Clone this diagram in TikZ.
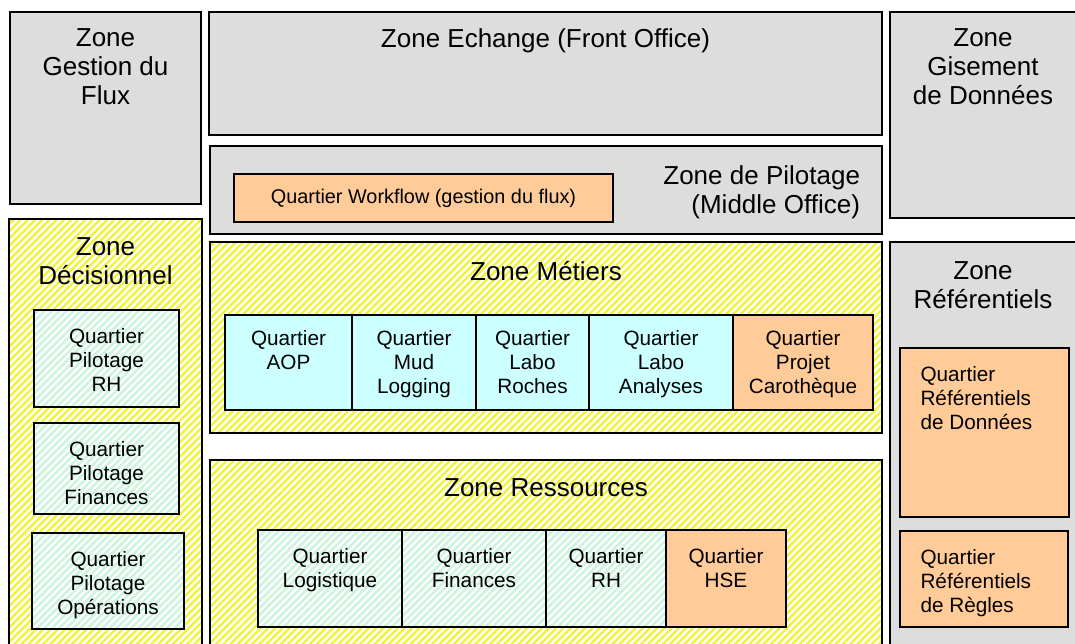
\documentclass[tikz,border=0pt]{standalone}
\usepackage{fontspec}
\setmainfont{Liberation Sans}
\usetikzlibrary{positioning,fit,patterns.meta}

\definecolor{zonegray}{HTML}{DDDDDD}
\definecolor{orangeq}{HTML}{FFCC99}
\definecolor{cyanq}{HTML}{CCFFFF}
\definecolor{yellowbg}{HTML}{FFFFCC}
\definecolor{yellowln}{HTML}{F2F230}
\definecolor{cyanbg}{HTML}{F0FFFF}
\definecolor{cyanln}{HTML}{C8F4F4}

\begin{document}
\begin{tikzpicture}[
    x=0.02cm, y=-0.02cm,
    every node/.style={inner sep=0pt, outer sep=0pt},
    frame/.style={draw, line width=1.1pt, fit={#1}},
    zone/.style={frame={#1}, fill=zonegray},
    yzone/.style={frame={#1}, fill=yellowbg, pattern={Lines[angle=45, distance=2.9pt, line width=1.3pt]}, pattern color=yellowln},
    qorange/.style={frame={#1}, fill=orangeq},
    qcyan/.style={frame={#1}, fill=cyanq},
    qhatch/.style={frame={#1}, fill=cyanbg, pattern={Lines[angle=45, distance=2.9pt, line width=1.3pt]}, pattern color=cyanln},
    ztitle/.style={font=\fontsize{14.8}{16.5}\selectfont, align=center},
    qtext/.style={font=\fontsize{11.8}{13.7}\selectfont, align=center}
  ]
    \useasboundingbox (0,0) rectangle (1075,644);
    \clip (0,0) rectangle (1075,644);

    % top row
    \node[zone={(10,12) (201,204)}] (flux) {};
    \node[zone={(209,12) (882,135)}] (echange) {};
    \node[zone={(890,12) (1085,218)}] (gisement) {};
    \node[zone={(210,146) (882,234)}] (pilotage) {};
    \node[qorange={(234,174) (613,222)}] (workflow) {};

    \node[ztitle, below=0.34cm of flux.north] (fluxtitle) {Zone\\Gestion du\\Flux};
    \node[ztitle, below=0.34cm of echange.north] (echangetitle) {Zone Echange (Front Office)};
    \node[ztitle, below=0.34cm of gisement.north, xshift=-0.09cm] (gisementtitle) {Zone\\Gisement\\de Données};
    \node[ztitle, align=right, below left=0.4cm and 0.44cm of pilotage.north east] (pilotagetitle) {Zone de Pilotage\\(Middle Office)};
    \node[qtext, font=\fontsize{11.3}{13.7}\selectfont] (workflowtext) at (workflow.center) {Quartier Workflow (gestion du flux)};

    % zones below
    \node[yzone={(9,219) (202,660)}] (decision) {};
    \node[yzone={(210,242) (882,433)}] (metiers) {};
    \node[yzone={(210,460) (882,660)}] (ressources) {};
    \node[zone={(890,242) (1085,660)}] (referentiels) {};

    \node[ztitle, below=0.38cm of decision.north] (decisiontitle) {Zone\\Décisionnel};
    \node[ztitle, below=0.38cm of metiers.north] (metierstitle) {Zone Métiers};
    \node[ztitle, below=0.38cm of ressources.north] (ressourcestitle) {Zone Ressources};
    \node[ztitle, below=0.4cm of referentiels.north, xshift=-0.09cm] (referentielstitle) {Zone\\Référentiels};

    % quartiers decisionnel
    \node[qhatch={(34,310) (179,407)}] (pilrh) {};
    \node[qhatch={(34,423) (179,514)}] (pilfin) {};
    \node[qhatch={(32,533) (184,629)}] (pilops) {};
    \node[qtext, below=0.36cm of pilrh.north] (pilrhtext) {Quartier\\Pilotage\\RH};
    \node[qtext, below=0.36cm of pilfin.north] (pilfintext) {Quartier\\Pilotage\\Finances};
    \node[qtext, below=0.36cm of pilops.north] (pilopstext) {Quartier\\Pilotage\\Opérations};

    % quartiers metiers
    \node[qcyan={(225,315) (352,410)}] (aop) {};
    \node[qcyan={(352,315) (476,410)}] (mud) {};
    \node[qcyan={(476,315) (589,410)}] (roches) {};
    \node[qcyan={(589,315) (733,410)}] (analyses) {};
    \node[qorange={(733,315) (873,410)}] (carotheque) {};
    \node[qtext, below=0.3cm of aop.north] (aoptext) {Quartier\\AOP};
    \node[qtext, below=0.3cm of mud.north] (mudtext) {Quartier\\Mud\\Logging};
    \node[qtext, below=0.3cm of roches.north] (rochestext) {Quartier\\Labo\\Roches};
    \node[qtext, below=0.3cm of analyses.north] (analysestext) {Quartier\\Labo\\Analyses};
    \node[qtext, below=0.3cm of carotheque.north] (carothequetext) {Quartier\\Projet\\Carothèque};

    % quartiers ressources
    \node[qhatch={(258,530) (402,627)}] (logistique) {};
    \node[qhatch={(402,530) (546,627)}] (finances) {};
    \node[qhatch={(546,530) (666,627)}] (rh) {};
    \node[qorange={(666,530) (786,627)}] (hse) {};
    \node[qtext, below=0.36cm of logistique.north] (logistiquetext) {Quartier\\Logistique};
    \node[qtext, below=0.36cm of finances.north] (financestext) {Quartier\\Finances};
    \node[qtext, below=0.36cm of rh.north] (rhtext) {Quartier\\RH};
    \node[qtext, below=0.36cm of hse.north] (hsetext) {Quartier\\HSE};

    % quartiers referentiels
    \node[qorange={(900,348) (1069,517)}] (refdonnees) {};
    \node[qorange={(900,531) (1068,627)}] (refregles) {};
    \node[qtext, align=left, below right=0.36cm and 0.41cm of refdonnees.north west] (refdonneestext) {Quartier\\Référentiels\\de Données};
    \node[qtext, align=left, below right=0.36cm and 0.41cm of refregles.north west] (refreglestext) {Quartier\\Référentiels\\de Règles};
  \end{tikzpicture}
\end{document}
